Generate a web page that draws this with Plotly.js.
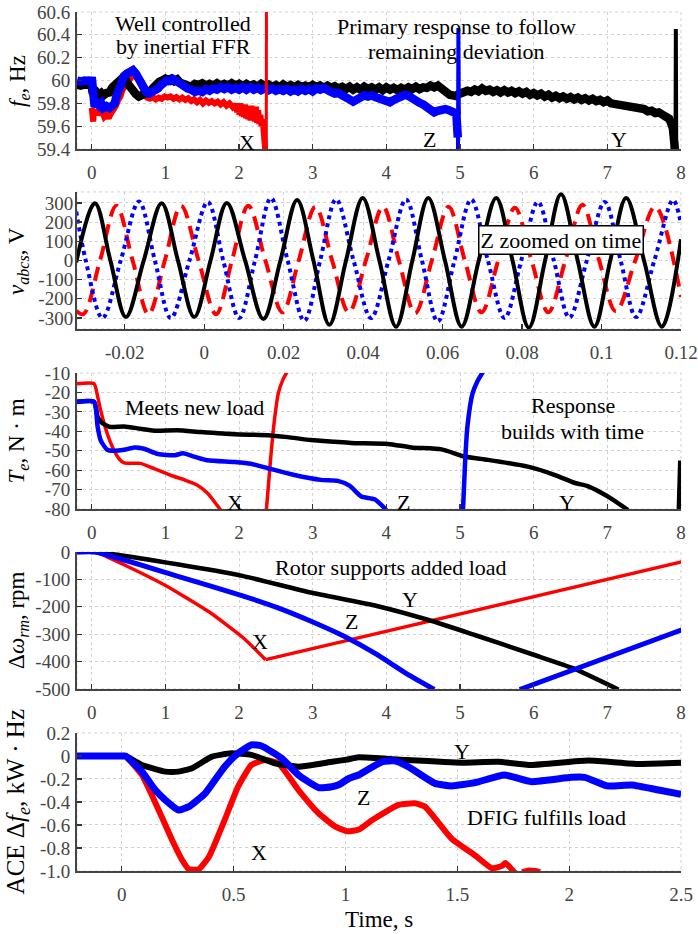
<!DOCTYPE html>
<html><head><meta charset="utf-8">
<script src="https://cdn.plot.ly/plotly-3.0.1.min.js"></script>
<style>html,body{margin:0;padding:0;background:#fff}#chart{width:698px;height:934px}</style>
</head><body><div id="chart"></div>
<script>
// ---------- Panel 1: frequency f_e (Hz) vs time (s) ----------
const freqRed = [[0.0,59.76],[0.01,59.7],[0.02,59.64],[0.03,59.74],[0.05,59.7],[0.08,59.74],[0.11,59.7],[0.14,59.73],[0.17,59.68],[0.2,59.7],[0.23,59.67],[0.26,59.71],[0.3,59.74],[0.33,59.78],[0.36,59.83],[0.39,59.86],[0.42,59.92],[0.45,59.95],[0.48,59.99],[0.51,60.01],[0.54,60.03],[0.57,60.05],[0.6,60.03],[0.63,60.01],[0.66,59.97],[0.69,59.92],[0.72,59.89],[0.75,59.85],[0.79,59.84],[0.83,59.855],[0.87,59.835],[0.91,59.85],[0.95,59.84],[0.99,59.86],[1.03,59.85],[1.07,59.86],[1.11,59.84],[1.15,59.855],[1.19,59.835],[1.23,59.85],[1.27,59.83],[1.31,59.845],[1.35,59.82],[1.39,59.835],[1.43,59.81],[1.47,59.83],[1.51,59.8],[1.55,59.825],[1.59,59.805],[1.63,59.82],[1.67,59.8],[1.71,59.815],[1.75,59.79],[1.79,59.81],[1.83,59.78],[1.87,59.8],[1.91,59.77],[1.93,59.79],[1.945,59.74],[1.96,59.8],[1.975,59.72],[1.99,59.79],[2.005,59.7],[2.02,59.8],[2.035,59.69],[2.05,59.78],[2.065,59.68],[2.08,59.79],[2.095,59.67],[2.11,59.78],[2.125,59.66],[2.14,59.77],[2.155,59.65],[2.17,59.78],[2.185,59.66],[2.2,59.76],[2.215,59.64],[2.23,59.77],[2.245,59.63],[2.26,59.74],[2.275,59.62],[2.29,59.7],[2.305,59.6],[2.32,59.66],[2.335,59.55],[2.35,59.45],[2.36,59.35]];
const freqRedSpike = [[2.37,59.3],[2.372,60.7]];
const freqBlack = [[-0.2,59.965],[-0.15,59.955],[-0.1,59.965],[-0.05,59.955],[0,59.962],[0.01,59.9],[0.04,59.875],[0.07,59.895],[0.1,59.875],[0.13,59.89],[0.16,59.87],[0.2,59.89],[0.24,59.895],[0.28,59.94],[0.32,59.97],[0.36,60.0],[0.4,60.02],[0.44,60.035],[0.48,59.98],[0.52,59.94],[0.56,59.9],[0.6,59.88],[0.64,59.86],[0.68,59.87],[0.72,59.88],[0.76,59.895],[0.8,59.91],[0.84,59.94],[0.88,59.97],[0.92,59.99],[0.96,60.0],[1.0,60.015],[1.04,60.0],[1.08,60.015],[1.12,59.995],[1.16,60.01],[1.2,59.98],[1.25,59.965],[1.3,59.95],[1.35,59.945],[1.4,59.97],[1.45,59.96],[1.5,59.975],[1.55,59.955],[1.6,59.97],[1.65,59.955],[1.7,59.975],[1.75,59.955],[1.8,59.97],[1.85,59.955],[1.9,59.975],[1.95,59.955],[2.0,59.97],[2.05,59.95],[2.1,59.97],[2.15,59.95],[2.2,59.965],[2.25,59.945],[2.3,59.97],[2.35,59.95],[2.4,59.965],[2.45,59.945],[2.5,59.96],[2.55,59.94],[2.6,59.965],[2.65,59.945],[2.7,59.96],[2.75,59.94],[2.8,59.96],[2.85,59.94],[2.9,59.955],[2.95,59.94],[3.0,59.96],[3.05,59.94],[3.1,59.955],[3.15,59.935],[3.2,59.955],[3.25,59.935],[3.3,59.95],[3.35,59.93],[3.4,59.945],[3.45,59.925],[3.5,59.945],[3.55,59.92],[3.6,59.94],[3.65,59.92],[3.7,59.945],[3.75,59.925],[3.8,59.94],[3.85,59.92],[3.9,59.94],[3.95,59.915],[4.0,59.94],[4.05,59.92],[4.1,59.935],[4.15,59.915],[4.2,59.935],[4.25,59.92],[4.3,59.94],[4.35,59.925],[4.4,59.945],[4.45,59.925],[4.5,59.94],[4.55,59.935],[4.6,59.955],[4.65,59.94],[4.7,59.955],[4.74,59.93],[4.78,59.91],[4.82,59.89],[4.86,59.875],[4.9,59.87],[4.94,59.865],[4.98,59.88],[5.02,59.89],[5.06,59.9],[5.1,59.91],[5.15,59.9],[5.2,59.92],[5.25,59.905],[5.3,59.93],[5.35,59.91],[5.4,59.92],[5.45,59.9],[5.5,59.915],[5.55,59.895],[5.6,59.915],[5.65,59.895],[5.7,59.91],[5.75,59.89],[5.8,59.905],[5.85,59.885],[5.9,59.9],[5.95,59.875],[6.0,59.89],[6.05,59.87],[6.1,59.885],[6.15,59.86],[6.2,59.875],[6.25,59.85],[6.3,59.865],[6.35,59.845],[6.4,59.86],[6.45,59.84],[6.5,59.855],[6.55,59.835],[6.6,59.85],[6.65,59.83],[6.7,59.845],[6.75,59.825],[6.8,59.84],[6.85,59.82],[6.9,59.83],[6.95,59.81],[7.0,59.825],[7.05,59.8],[7.1,59.795],[7.15,59.775],[7.2,59.785],[7.25,59.765],[7.3,59.775],[7.35,59.755],[7.4,59.765],[7.45,59.745],[7.5,59.75],[7.55,59.73],[7.6,59.735],[7.65,59.715],[7.7,59.72],[7.75,59.7],[7.8,59.69],[7.84,59.665],[7.87,59.62],[7.89,59.58],[7.91,59.45],[7.92,59.35]];
const freqBlackSpike = [[7.925,59.35],[7.93,60.45],[7.935,59.5]];
const freqBlue = [[-0.2,60.0],[-0.15,59.99],[-0.1,60.0],[-0.05,59.99],[-0.01,59.995],[0.0,60.03],[0.01,59.8],[0.04,59.77],[0.07,59.8],[0.1,59.78],[0.13,59.8],[0.16,59.76],[0.2,59.775],[0.24,59.76],[0.28,59.78],[0.31,59.8],[0.34,59.87],[0.37,59.94],[0.4,59.99],[0.44,60.04],[0.48,60.06],[0.52,60.075],[0.56,60.09],[0.6,60.06],[0.63,60.03],[0.66,59.98],[0.7,59.93],[0.74,59.9],[0.78,59.885],[0.82,59.895],[0.86,59.9],[0.9,59.93],[0.94,59.96],[0.98,59.99],[1.02,60.0],[1.06,59.995],[1.1,60.015],[1.14,60.0],[1.18,59.98],[1.22,59.96],[1.26,59.95],[1.3,59.93],[1.35,59.92],[1.4,59.9],[1.45,59.91],[1.5,59.9],[1.55,59.925],[1.6,59.91],[1.65,59.93],[1.7,59.92],[1.75,59.94],[1.8,59.925],[1.85,59.94],[1.9,59.92],[1.95,59.935],[2.0,59.92],[2.05,59.94],[2.1,59.92],[2.15,59.94],[2.2,59.92],[2.25,59.935],[2.3,59.915],[2.35,59.93],[2.4,59.915],[2.45,59.93],[2.5,59.91],[2.55,59.925],[2.6,59.91],[2.65,59.925],[2.7,59.905],[2.75,59.92],[2.8,59.905],[2.85,59.925],[2.9,59.91],[2.95,59.925],[3.0,59.905],[3.05,59.93],[3.1,59.92],[3.15,59.935],[3.2,59.91],[3.25,59.9],[3.3,59.885],[3.35,59.89],[3.4,59.87],[3.45,59.86],[3.5,59.835],[3.55,59.815],[3.6,59.83],[3.65,59.845],[3.7,59.87],[3.75,59.86],[3.8,59.87],[3.85,59.855],[3.9,59.845],[3.95,59.83],[4.0,59.82],[4.05,59.81],[4.1,59.83],[4.15,59.85],[4.2,59.86],[4.25,59.875],[4.3,59.865],[4.35,59.84],[4.4,59.825],[4.45,59.805],[4.5,59.79],[4.55,59.765],[4.6,59.74],[4.65,59.72],[4.7,59.735],[4.75,59.745],[4.8,59.75],[4.85,59.74],[4.9,59.725],[4.95,59.71],[4.97,59.5]];
const freqBlueSpike = [[4.972,59.35],[4.978,60.46],[4.984,59.7]];

// ---------- Panel 2: phase voltages v_abcs (V), zoomed time (s) ----------
const voltA = [[-0.0322,-10],[-0.0275,298],[-0.0236,0],[-0.0197,-295],[-0.0152,0],[-0.0107,298],[-0.0066,0],[-0.0025,-295],[0.0016,0],[0.0057,300],[0.0103,0],[0.0149,-305],[0.0192,0],[0.0234,315],[0.0275,0],[0.0315,-335],[0.0357,0],[0.0399,325],[0.0441,0],[0.0483,-345],[0.0524,0],[0.0564,325],[0.0606,0],[0.0648,-345],[0.0691,0],[0.0735,325],[0.0776,0],[0.0817,-350],[0.0858,0],[0.0898,345],[0.094,0],[0.0982,-345],[0.1022,0],[0.1062,325],[0.1107,0],[0.1152,-345],[0.12,110]];
const voltB = [[-0.0322,-262],[-0.0304,-280],[-0.0262,0],[-0.0221,285],[-0.0180,0],[-0.0140,-280],[-0.0099,0],[-0.0058,285],[-0.0014,0],[0.0030,-280],[0.0070,0],[0.0111,285],[0.0154,0],[0.0197,-270],[0.0238,0],[0.0280,280],[0.0322,0],[0.0364,-270],[0.0407,0],[0.0450,280],[0.0490,0],[0.0531,-275],[0.0573,0],[0.0615,280],[0.0656,0],[0.0698,-270],[0.0740,0],[0.0782,275],[0.0824,0],[0.0866,-270],[0.0909,0],[0.0952,290],[0.0994,0],[0.1036,-265],[0.1085,0],[0.1135,280],[0.12,-190]];
const voltC = [[-0.0322,255],[-0.0298,0],[-0.0256,-300],[-0.0210,0],[-0.0164,307],[-0.0124,0],[-0.0084,-300],[-0.0037,0],[0.0009,305],[0.0048,0],[0.0088,-300],[0.0128,0],[0.0168,325],[0.0210,0],[0.0252,-315],[0.0292,0],[0.0332,318],[0.0376,0],[0.0420,-300],[0.0464,0],[0.0508,318],[0.0548,0],[0.0588,-318],[0.0630,0],[0.0672,318],[0.0714,0],[0.0756,-300],[0.0798,0],[0.0840,305],[0.0880,0],[0.0919,-298],[0.0963,0],[0.1008,305],[0.1048,0],[0.1087,-295],[0.1133,0],[0.1180,315],[0.12,190]];

// ---------- Panel 3: electromagnetic torque T_e (N·m) ----------
const torqueRedA = [[-0.2,-15.5],[0.03,-15.5],[0.08,-22],[0.12,-29],[0.2,-40],[0.3,-49.6],[0.38,-54.5],[0.44,-56.3],[0.55,-56.5],[0.66,-56.5],[0.8,-58.5],[1.0,-61.5],[1.1,-63],[1.26,-65],[1.43,-67.6],[1.57,-71.8],[1.7,-78],[1.76,-81]];
const torqueRedB = [[2.37,-81],[2.42,-58],[2.466,-39],[2.533,-20.5],[2.6,-13],[2.66,-9]];
const torqueBlack = [[-0.2,-24.8],[0.03,-24.8],[0.08,-32.6],[0.12,-35],[0.2,-37],[0.26,-37.8],[0.44,-37.5],[0.66,-38.7],[0.85,-39.7],[1.16,-39.5],[1.48,-40.4],[1.94,-41.5],[2.39,-42],[2.66,-43],[2.98,-44.5],[3.3,-45.4],[3.52,-46],[4.02,-46.5],[4.34,-48.3],[4.75,-49.3],[5.06,-53],[5.38,-54.7],[5.92,-58.2],[6.29,-62.5],[6.56,-66.6],[6.74,-68.3],[7.01,-73.6],[7.28,-80.5]];
const torqueBlackB = [[7.97,-81],[7.99,-55]];
const torqueBlueA = [[-0.2,-24.8],[0.03,-24.8],[0.08,-37.6],[0.12,-44.5],[0.21,-49.5],[0.3,-50],[0.44,-49.5],[0.58,-48.3],[0.71,-49],[0.9,-51.7],[1.13,-52.3],[1.24,-51.3],[1.39,-53],[1.57,-54.9],[1.94,-55.8],[2.16,-56.7],[2.39,-59],[2.75,-62.5],[3.11,-65],[3.34,-65.5],[3.5,-68],[3.66,-73.6],[3.84,-75],[4.0,-80.5]];
const torqueBlueB = [[5.04,-81],[5.07,-55],[5.1,-37.6],[5.17,-20.5],[5.24,-14],[5.31,-9.5]];

// ---------- Panel 4: rotor speed deviation (rpm) ----------
const speedRedA = [[-0.2,0],[0.05,0],[0.48,-52],[1.02,-125],[1.61,-222],[2.06,-314],[2.36,-393]];
const speedRedB = [[2.36,-393],[8.03,-35]];
const speedBlack = [[-0.2,0],[0.05,0],[1.16,-45],[2.06,-88],[2.97,-148],[3.87,-197],[4.62,-252],[5.2,-303],[6.01,-376],[6.54,-425],[7.15,-502]];
const speedBlueA = [[-0.2,0],[0.05,0],[1.16,-88],[2.06,-161],[2.52,-203],[2.97,-252],[3.42,-307],[3.87,-374],[4.29,-447],[4.65,-502]];
const speedBlueB = [[5.81,-502],[8.03,-282]];

// ---------- Panel 5: ACE Δf_e (kW·Hz), time (s) ----------
const aceBlack = [[-0.2,0],[0.0,0],[0.016,0],[0.09,-0.078],[0.195,-0.136],[0.254,-0.136],[0.314,-0.107],[0.403,-0.006],[0.49,0.023],[0.58,0.009],[0.686,-0.064],[0.79,-0.093],[0.94,-0.05],[1.01,-0.03],[1.058,-0.012],[1.266,-0.035],[1.52,-0.058],[1.683,-0.05],[1.83,-0.078],[2.085,-0.04],[2.31,-0.07],[2.5,-0.06]];
const aceBlue = [[-0.2,0],[0.0,0],[0.016,0],[0.09,-0.136],[0.15,-0.296],[0.195,-0.383],[0.254,-0.47],[0.3,-0.44],[0.373,-0.325],[0.46,-0.093],[0.52,0.023],[0.58,0.096],[0.625,0.087],[0.715,-0.02],[0.79,-0.165],[0.88,-0.275],[0.94,-0.268],[0.97,-0.25],[1.017,-0.194],[1.058,-0.165],[1.165,-0.049],[1.22,-0.043],[1.28,-0.093],[1.4,-0.238],[1.475,-0.26],[1.58,-0.232],[1.71,-0.165],[1.83,-0.223],[2.01,-0.186],[2.07,-0.186],[2.17,-0.26],[2.28,-0.252],[2.4,-0.296],[2.5,-0.333]];
const aceRed = [[-0.2,0],[0.0,0],[0.016,0],[0.09,-0.165],[0.165,-0.47],[0.225,-0.73],[0.27,-0.904],[0.30,-0.985],[0.344,-0.985],[0.39,-0.876],[0.46,-0.557],[0.52,-0.267],[0.58,-0.078],[0.64,-0.035],[0.7,-0.064],[0.79,-0.296],[0.88,-0.498],[0.955,-0.615],[1.01,-0.655],[1.06,-0.64],[1.12,-0.557],[1.237,-0.426],[1.31,-0.411],[1.355,-0.44],[1.475,-0.72],[1.58,-0.865],[1.655,-0.976],[1.7,-0.955],[1.715,-0.93],[1.75,-1.0],[1.77,-1.04]];
const aceRedTail = [[1.79,-1.01],[1.82,-0.995],[1.85,-1.0],[1.87,-1.01]];

// ---------- Tick labels ----------
const ticks1X = [0,1,2,3,4,5,6,7,8];
const ticks1Y = [59.4,59.6,59.8,60,60.2,60.4,60.6];
const ticks1YText = ['59.4','59.6','59.8','60','60.2','60.4','60.6'];
const ticks2X = [-0.02,0,0.02,0.04,0.06,0.08,0.1,0.12];
const ticks2XText = ['-0.02','0','0.02','0.04','0.06','0.08','0.1','0.12'];
const ticks2Y = [-300,-200,-100,0,100,200,300];
const ticks2YText = ['-300','-200','-100','0','100','200','300'];
const ticks3Y = [-80,-70,-60,-50,-40,-30,-20,-10];
const ticks3YText = ['-80','-70','-60','-50','-40','-30','-20','-10'];
const ticks4Y = [-500,-400,-300,-200,-100,0];
const ticks4YText = ['-500','-400','-300','-200','-100','0'];
const ticks5X = [0,0.5,1,1.5,2,2.5];
const ticks5XText = ['0','0.5','1','1.5','2','2.5'];
const ticks5Y = [-1.0,-0.8,-0.6,-0.4,-0.2,0,0.2];
const ticks5YText = ['-1.0','-0.8','-0.6','-0.4','-0.2','0','0.2'];

// axis titles: [italic symbol, italic subscript, plain prefix, plain suffix]
const axisTitleParts = [['f','e','',', Hz'],['v','abcs','',', V'],['T','e','',', N · m'],['ω','rm','Δ',', rpm'],['f','e','ACE Δ',', kW · Hz']];
const axisTitleSizes = [23, 23, 23, 23, 25];

// ---------- Drawing ----------
const FONT = '"Liberation Serif","Times New Roman",serif';
const RED = '#ff0000', BLUE = '#0000ff', BLACK = '#000000';

function tr(pairs, n, color, width, opts) {
  const o = opts || {};
  return {
    type: 'scatter', mode: 'lines',
    x: pairs.map(p => p[0]), y: pairs.map(p => p[1]),
    xaxis: n === 1 ? 'x' : 'x' + n, yaxis: n === 1 ? 'y' : 'y' + n,
    line: Object.assign({color: color, width: width}, o.line || {}),
    hoverinfo: 'skip', showlegend: false
  };
}
const sp = {shape: 'spline', smoothing: 0.6};
const sp5 = {shape: 'spline', smoothing: 0.45};
const sp2 = {shape: 'spline', smoothing: 1.0};

const data = [
  tr(freqRed, 1, RED, 6),
  tr(freqBlack, 1, BLACK, 8.5),
  tr(freqBlackSpike, 1, BLACK, 4),
  tr(freqBlue, 1, BLUE, 8.5),
  tr(freqBlueSpike, 1, BLUE, 4),
  tr(freqRedSpike, 1, RED, 3),

  tr(voltB, 2, RED, 4, {line: Object.assign({dash: '14px,8px'}, sp2)}),
  tr(voltC, 2, BLUE, 4, {line: Object.assign({dash: '4px,4px'}, sp2)}),
  tr(voltA, 2, BLACK, 4, {line: sp2}),

  tr(torqueRedA, 3, RED, 3.5, {line: sp}),
  tr(torqueRedB, 3, RED, 3.5, {line: sp}),
  tr(torqueBlack, 3, BLACK, 4.5, {line: sp}),
  tr(torqueBlackB, 3, BLACK, 4.5),
  tr(torqueBlueA, 3, BLUE, 4.5, {line: sp}),
  tr(torqueBlueB, 3, BLUE, 4.5, {line: sp}),

  tr(speedRedA, 4, RED, 3.5, {line: sp5}),
  tr(speedRedB, 4, RED, 3.5),
  tr(speedBlack, 4, BLACK, 4.5, {line: sp5}),
  tr(speedBlueA, 4, BLUE, 5, {line: sp5}),
  tr(speedBlueB, 4, BLUE, 5),

  tr(aceRed, 5, RED, 6, {line: sp5}),
  tr(aceRedTail, 5, RED, 6),
  tr(aceBlack, 5, BLACK, 6, {line: sp5}),
  tr(aceBlue, 5, BLUE, 7, {line: sp5})
];

const tickFont = {family: FONT, size: 19, color: '#444'};
function xax(range, vals, text, anchor) {
  return {
    range: range, anchor: anchor, domain: [0, 1],
    tickmode: 'array', tickvals: vals, ticktext: text,
    ticks: 'inside', ticklen: 5, tickwidth: 1.2, tickcolor: '#333',
    showline: true, linecolor: '#444', linewidth: 2, mirror: false,
    showgrid: true, gridcolor: '#d2d2d2', griddash: 'dot', gridwidth: 1,
    zeroline: false, tickfont: tickFont, ticklabelstandoff: 5, fixedrange: true
  };
}
function yax(range, vals, text, domain, anchor, standoff) {
  return {
    range: range, anchor: anchor, domain: domain,
    tickmode: 'array', tickvals: vals, ticktext: text,
    ticks: 'inside', ticklen: 5, tickwidth: 1.2, tickcolor: '#333',
    showline: true, linecolor: '#444', linewidth: 2, mirror: false,
    showgrid: true, gridcolor: '#d2d2d2', griddash: 'dot', gridwidth: 1,
    zeroline: false, tickfont: tickFont, ticklabelstandoff: standoff, fixedrange: true
  };
}

const domains = [[0.8405, 1.0], [0.631, 0.7905], [0.4214, 0.5797], [0.2119, 0.3714], [0.0, 0.1607]];

const annFont = {family: FONT, size: 22, color: '#000'};
function ann(text, n, x, y, extra) {
  return Object.assign({
    text: text, x: x, y: y,
    xref: n === 1 ? 'x' : 'x' + n, yref: n === 1 ? 'y' : 'y' + n,
    showarrow: false, font: annFont, xanchor: 'center', yanchor: 'middle'
  }, extra || {});
}

const annotations = [
  ann('Well controlled', 1, 1.24, 60.495),
  ann('by inertial FFR', 1, 1.24, 60.295),
  ann('Primary response to follow', 1, 4.95, 60.47),
  ann('remaining deviation', 1, 4.95, 60.25),
  ann('X', 1, 2.11, 59.46),
  ann('Z', 1, 4.59, 59.48),
  ann('Y', 1, 7.16, 59.48),
  ann('Z zoomed on time', 2, 0.0898, 107, {bgcolor: '#ffffff', bordercolor: '#000', borderwidth: 1.5, borderpad: 1}),
  ann('Meets new load', 3, 1.40, -27.5),
  ann('X', 3, 1.95, -76.9),
  ann('Z', 3, 4.23, -76.4),
  ann('Y', 3, 6.45, -76.4),
  ann('Response', 3, 6.53, -26.5),
  ann('builds with time', 3, 6.53, -40.3),
  ann('Rotor supports added load', 4, 4.06, -58),
  ann('X', 4, 2.28, -328),
  ann('Z', 4, 3.53, -255),
  ann('Y', 4, 4.32, -172),
  ann('Y', 5, 1.52, 0.035),
  ann('Z', 5, 1.08, -0.357),
  ann('X', 5, 0.614, -0.835),
  ann('DFIG fulfills load', 5, 1.90, -0.539),
  {text: 'Time, s', xref: 'paper', yref: 'paper', x: 0.5, y: -0.057, showarrow: false,
   font: {family: FONT, size: 23, color: '#000'}, xanchor: 'center', yanchor: 'middle'}
];
axisTitleParts.forEach((p, i) => {
  const s = axisTitleSizes[i];
  const subS = Math.round(s * 0.7);
  const text = p[2] + '<span style="font-style:italic;font-size:' + s + 'px">' + p[0] + '</span>' +
    '<sub><span style="font-style:italic;font-size:' + subS + 'px">' + p[1] + '</span></sub>' + p[3];
  annotations.push({text: text, xref: 'paper', yref: 'paper', x: -0.097,
    y: (domains[i][0] + domains[i][1]) / 2, textangle: -90, showarrow: false,
    font: {family: FONT, size: s, color: '#000'}, xanchor: 'center', yanchor: 'middle'});
});

const shapes = [1, 2, 3, 4, 5].map(n => ({
  type: 'rect', xref: (n === 1 ? 'x' : 'x' + n) + ' domain', yref: (n === 1 ? 'y' : 'y' + n) + ' domain',
  x0: 0, x1: 1, y0: 0, y1: 1, line: {color: '#d2d2d2', width: 1, dash: 'dot'}, layer: 'below'
}));

const layout = {
  width: 698, height: 934,
  margin: {l: 77, r: 17, t: 12, b: 63},
  paper_bgcolor: '#fff', plot_bgcolor: '#fff',
  font: {family: FONT, color: '#000'},
  showlegend: false,
  xaxis: xax([-0.2, 8], ticks1X, ticks1X.map(String), 'y'),
  yaxis: yax([59.4, 60.6], ticks1Y, ticks1YText, domains[0], 'x', 1),
  xaxis2: xax([-0.032, 0.12], ticks2X, ticks2XText, 'y2'),
  yaxis2: yax([-357, 357], ticks2Y, ticks2YText, domains[1], 'x2', -2),
  xaxis3: xax([-0.2, 8], ticks1X, ticks1X.map(String), 'y3'),
  yaxis3: yax([-80, -10], ticks3Y, ticks3YText, domains[2], 'x3', 1),
  xaxis4: xax([-0.2, 8], ticks1X, ticks1X.map(String), 'y4'),
  yaxis4: yax([-500, 0], ticks4Y, ticks4YText, domains[3], 'x4', 1),
  xaxis5: xax([-0.2, 2.5], ticks5X, ticks5XText, 'y5'),
  yaxis5: yax([-1.0, 0.2], ticks5Y, ticks5YText, domains[4], 'x5', 1),
  annotations: annotations,
  shapes: shapes
};

Plotly.newPlot('chart', data, layout, {displayModeBar: false, staticPlot: true});
</script></body></html>
